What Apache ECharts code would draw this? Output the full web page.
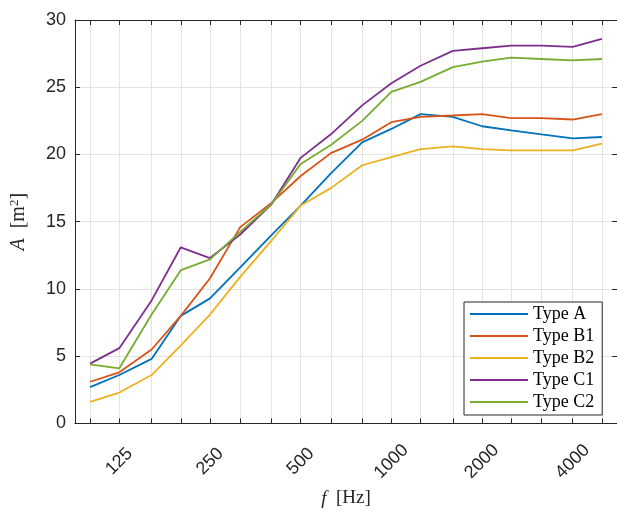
<!DOCTYPE html>
<html>
<head>
<meta charset="utf-8">
<script src="https://cdn.jsdelivr.net/npm/echarts@6/dist/echarts.min.js"></script>
<style>
  html, body { margin: 0; padding: 0; background: #fff; }
  #chart { width: 617px; height: 513px; }
</style>
</head>
<body>
<div id="chart"></div>
<script>
// Third-octave band centre frequencies (Hz)
var freqs = [100, 125, 160, 200, 250, 315, 400, 500, 630, 800, 1000, 1250, 1600, 2000, 2500, 3150, 4000, 5000];
var tickLabels = [125, 250, 500, 1000, 2000, 4000];
var yTicks = [0, 5, 10, 15, 20, 25, 30];

var seriesNames = ['Type A', 'Type B1', 'Type B2', 'Type C1', 'Type C2'];
var typeA  = [2.7, 3.6, 4.8, 8.0, 9.3, 11.6, 14.0, 16.2, 18.6, 20.9, 21.9, 23.0, 22.8, 22.1, 21.8, 21.5, 21.2, 21.3];
var typeB1 = [3.1, 3.8, 5.5, 8.0, 10.8, 14.6, 16.4, 18.4, 20.1, 21.1, 22.4, 22.8, 22.9, 23.0, 22.7, 22.7, 22.6, 23.0];
var typeB2 = [1.6, 2.3, 3.6, 5.8, 8.1, 10.9, 13.6, 16.2, 17.5, 19.2, 19.8, 20.4, 20.6, 20.4, 20.3, 20.3, 20.3, 20.8];
var typeC1 = [4.45, 5.6, 9.15, 13.1, 12.3, 14.05, 16.3, 19.75, 21.5, 23.65, 25.3, 26.6, 27.7, 27.9, 28.1, 28.1, 28.0, 28.6];
var typeC2 = [4.4, 4.1, 8.1, 11.4, 12.2, 14.25, 16.3, 19.3, 20.7, 22.5, 24.65, 25.4, 26.5, 26.9, 27.2, 27.1, 27.0, 27.1];
var seriesData = [typeA, typeB1, typeB2, typeC1, typeC2];
var colors = ['#0072BD', '#D95319', '#EDB120', '#7E2F8E', '#77AC30'];

var fMin = 100 / Math.pow(2, 1 / 6);
var fMax = 5000 * Math.pow(2, 1 / 6);

var axisColor = '#262626';
var gridColor = '#e3e3e3';
var sansFont = '"Liberation Sans", Arial, sans-serif';
var serifFont = '"Liberation Serif", "DejaVu Serif", serif';

var chart = echarts.init(document.getElementById('chart'), null, { renderer: 'canvas' });

function xAxisBase(pos) {
  return {
    type: 'log',
    logBase: 10,
    position: pos,
    min: fMin,
    max: fMax,
    axisLine: { show: true, onZero: false, lineStyle: { color: axisColor, width: 1 } },
    axisTick: { show: true, inside: true, length: 5, customValues: freqs, lineStyle: { color: axisColor, width: 1 } },
    splitLine: { show: false },
    minorTick: { show: false },
    minorSplitLine: { show: false }
  };
}

var bottomX = xAxisBase('bottom');
bottomX.name = '{it|f}  [Hz]';
bottomX.nameLocation = 'middle';
bottomX.nameGap = 57;
bottomX.nameTextStyle = {
  color: axisColor, fontFamily: serifFont, fontSize: 19, verticalAlign: 'top',
  rich: { it: { fontStyle: 'italic', fontFamily: serifFont, fontSize: 19, color: axisColor } }
};
bottomX.splitLine = { show: true, lineStyle: { color: gridColor, width: 1 } };
bottomX.axisLabel = {
  show: true, customValues: tickLabels, rotate: 45, align: 'center', verticalAlign: 'middle',
  margin: 38, color: axisColor, fontFamily: sansFont, fontSize: 18,
  formatter: function (v) { return String(Math.round(v)); }
};

var topX = xAxisBase('top');
topX.axisLabel = { show: false };

function yAxisBase(pos) {
  return {
    type: 'value',
    position: pos,
    min: 0, max: 30, interval: 5,
    axisLine: { show: true, onZero: false, lineStyle: { color: axisColor, width: 1 } },
    axisTick: { show: true, inside: true, length: 5, lineStyle: { color: axisColor, width: 1 } },
    splitLine: { show: false }
  };
}
var leftY = yAxisBase('left');
leftY.splitLine = { show: true, lineStyle: { color: gridColor, width: 1 } };
leftY.axisLabel = { show: true, margin: 9, color: axisColor, fontFamily: sansFont, fontSize: 18 };
leftY.name = '{it|A}  [m{sup|2}]';
leftY.nameLocation = 'middle';
leftY.nameGap = 45;
leftY.nameRotate = 90;
leftY.nameTextStyle = {
  color: axisColor, fontFamily: serifFont, fontSize: 20,
  rich: {
    it: { fontStyle: 'italic', fontFamily: serifFont, fontSize: 20, color: axisColor },
    sup: { fontFamily: serifFont, fontSize: 13, color: axisColor, verticalAlign: 'top', padding: [0, 0, 9, 0] }
  }
};
var rightY = yAxisBase('right');
rightY.axisLabel = { show: false };

var series = seriesNames.map(function (name, i) {
  return {
    name: name,
    type: 'line',
    xAxisIndex: 0,
    yAxisIndex: 0,
    data: freqs.map(function (f, j) { return [f, seriesData[i][j]]; }),
    showSymbol: false,
    symbol: 'none',
    lineStyle: { color: colors[i], width: 1.8 },
    itemStyle: { color: colors[i] },
    animation: false,
    z: 3
  };
});

chart.setOption({
  animation: false,
  backgroundColor: '#ffffff',
  color: colors,
  grid: { left: 71, top: 20, width: 547, height: 411, containLabel: false },
  xAxis: [bottomX, topX],
  yAxis: [leftY, rightY],
  legend: {
    show: true,
    orient: 'vertical',
    left: 464,
    top: 302,
    data: seriesNames,
    icon: 'rect',
    itemWidth: 58,
    itemHeight: 2,
    itemGap: 4,
    padding: [3, 8, 4, 6],
    borderColor: axisColor,
    borderWidth: 1,
    backgroundColor: '#ffffff',
    textStyle: { fontFamily: serifFont, fontSize: 18, color: '#000', lineHeight: 18, padding: [0, 0, 0, 0] },
    itemStyle: { borderWidth: 0 },
    selectedMode: false
  },
  series: series
});
</script>
</body>
</html>
